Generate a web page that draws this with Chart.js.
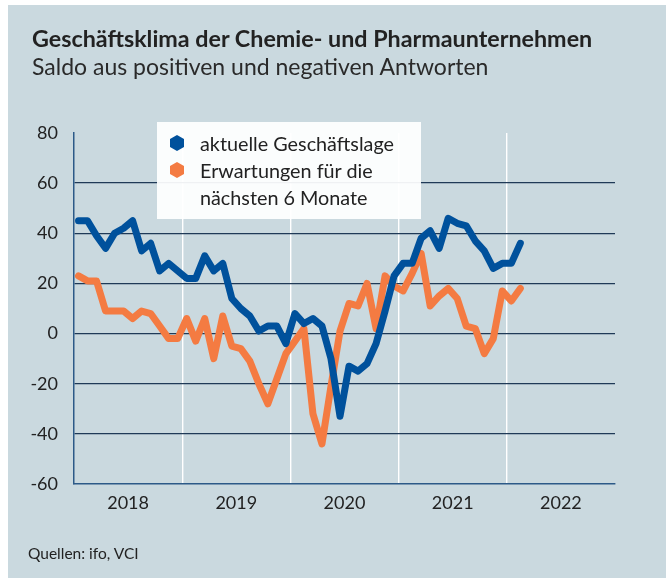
<!DOCTYPE html>
<html>
<head>
<meta charset="utf-8">
<script src="https://cdn.jsdelivr.net/npm/chart.js@4/dist/chart.umd.min.js"></script>
<style>
  html, body { margin: 0; padding: 0; background: #fff; }
  body { width: 666px; height: 579px; position: relative; overflow: hidden; font-family: Lato, sans-serif; color: #222; }
  .bg { position: absolute; left: 8px; top: 5px; right: 0; bottom: 1px; background: #cad9df; }
  #chart { position: absolute; left: 0; top: 0; }
  .title { position: absolute; left: 32px; top: 24px; font-size: 23.3px; font-weight: bold; white-space: nowrap; }
  .subtitle { position: absolute; left: 32px; top: 52px; font-size: 23px; white-space: nowrap; color: #2a2a2a; }
  .source { position: absolute; left: 28px; top: 544px; font-size: 15.5px; white-space: nowrap; }
  .legend { position: absolute; left: 157px; top: 122px; width: 264px; height: 97px; background: rgba(255,255,255,0.93); font-size: 19.8px; }
  .legend .item { position: absolute; left: 43px; white-space: nowrap; }
  .legend .hex { position: absolute; left: -30px; top: 5px; width: 14px; height: 16px;
    clip-path: polygon(50% 0, 100% 25%, 100% 75%, 50% 100%, 0 75%, 0 25%); }
</style>
</head>
<body>
<div class="bg"></div>
<canvas id="chart" width="666" height="579"></canvas>
<div class="title">Geschäftsklima der Chemie- und Pharmaunternehmen</div>
<div class="subtitle">Saldo aus positiven und negativen Antworten</div>
<div class="legend" id="legend"></div>
<div class="source">Quellen: ifo, VCI</div>
<script>
// Monatswerte ab Januar 2018 bis Februar 2022
const years = ['2018', '2019', '2020', '2021', '2022'];
const monthsPerYear = 12;

const geschaeftslage = [
  45, 45, 39, 34, 40, 42, 45, 33, 36, 25, 28, 25,
  22, 22, 31, 25, 28, 14, 10, 7, 1, 3, 3, -4,
  8, 4, 6, 3, -10, -33, -13, -15, -12, -4, 9, 23,
  28, 28, 38, 41, 34, 46, 44, 43, 37, 33, 26, 28,
  28, 36
];
const erwartungen = [
  23, 21, 21, 9, 9, 9, 6, 9, 8, 3, -2, -2,
  6, -3, 6, -10, 7, -5, -6, -11, -20, -28, -18, -8,
  -3, 2, -32, -44, -21, 1, 12, 11, 20, 2, 23, 19,
  17, 24, 32, 11, 15, 18, 14, 3, 2, -8, -2, 17,
  13, 18
];

const seriesNames = ['aktuelle Geschäftslage', 'Erwartungen für die\nnächsten 6 Monate'];
const seriesColors = ['#00519c', '#f47b42'];

const toPoints = arr => arr.map((v, i) => ({ x: i + 0.5, y: v }));

const navy = '#1f3a57';
const axisBlue = '#2c5a88';

const chart = new Chart(document.getElementById('chart'), {
  type: 'line',
  data: {
    datasets: [
      { label: seriesNames[0], data: toPoints(geschaeftslage), borderColor: seriesColors[0] },
      { label: seriesNames[1], data: toPoints(erwartungen), borderColor: seriesColors[1] }
    ].map(d => Object.assign(d, {
      borderWidth: 7,
      pointRadius: 0,
      tension: 0,
      fill: false,
      borderJoinStyle: 'round',
      borderCapStyle: 'round'
    }))
  },
  options: {
    responsive: false,
    animation: false,
    layout: { padding: { left: 24, right: 51, top: 133, bottom: 0 } },
    plugins: { legend: { display: false }, tooltip: { enabled: false } },
    scales: {
      x: {
        type: 'linear',
        min: 0,
        max: years.length * monthsPerYear,
        afterBuildTicks: s => {
          const t = [];
          for (let v = 0; v <= years.length * monthsPerYear; v += monthsPerYear / 2) t.push({ value: v });
          s.ticks = t;
        },
        afterFit: s => { s.height = 95; },
        ticks: {
          autoSkip: false,
          maxRotation: 0,
          padding: 8,
          color: '#222',
          font: { family: 'Lato', size: 18 },
          callback: v => (v % monthsPerYear === monthsPerYear / 2) ? years[(v - 6) / monthsPerYear] : ''
        },
        grid: {
          drawTicks: false,
          lineWidth: 1.4,
          color: c => {
            const v = c.tick && c.tick.value;
            return (v % monthsPerYear === 0 && v > 0 && v < years.length * monthsPerYear) ? '#ffffff' : 'rgba(0,0,0,0)';
          }
        },
        border: { color: axisBlue, width: 1.5 }
      },
      y: {
        min: -60,
        max: 80,
        afterFit: s => { s.width = 50; },
        ticks: {
          stepSize: 20,
          padding: 16,
          color: '#222',
          font: { family: 'Lato', size: 18 }
        },
        grid: {
          drawTicks: false,
          lineWidth: 1.3,
          color: c => {
            const v = c.tick && c.tick.value;
            return (v > -60 && v < 80) ? navy : 'rgba(0,0,0,0)';
          }
        },
        border: { color: axisBlue, width: 1.5 }
      }
    }
  }
});

// HTML-Legende
const legendBox = document.getElementById('legend');
let legendTop = 8;
seriesNames.forEach((name, i) => {
  const item = document.createElement('div');
  item.className = 'item';
  item.style.top = legendTop + 'px';
  item.style.lineHeight = '27px';
  item.innerHTML = '<span class="hex" style="background:' + seriesColors[i] + '"></span>' + name.replace('\n', '<br>');
  legendBox.appendChild(item);
  legendTop += 27 * name.split('\n').length;
});
</script>
</body>
</html>
